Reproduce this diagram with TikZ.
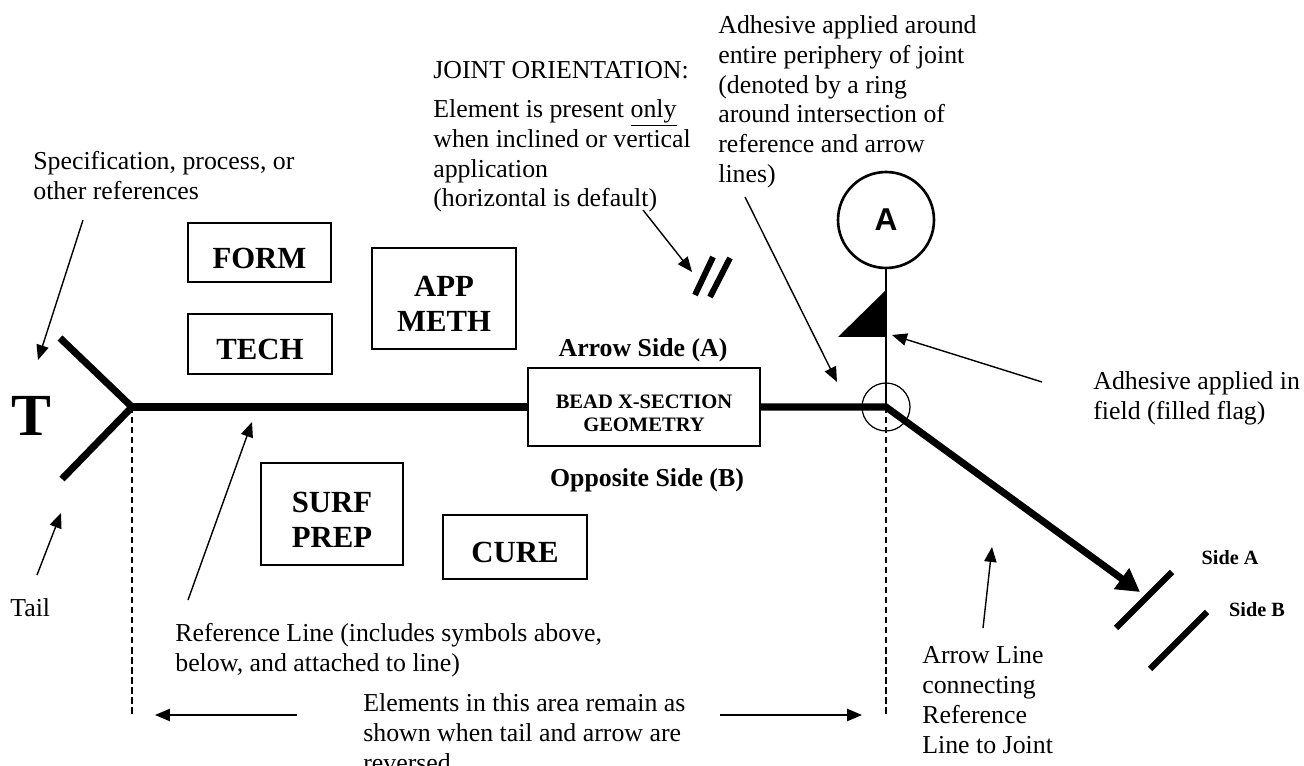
\documentclass[tikz,border=0pt]{standalone}
\usepackage{fontspec}
\setmainfont{Liberation Serif}
\newfontfamily\arialfont{Liberation Sans}
\usetikzlibrary{arrows.meta}

\newcommand{\capgap}{\rule{0pt}{18pt}}

\tikzset{
  refline/.style={line width=4pt},
  elbox/.style={draw, line width=0.9pt, inner sep=0pt, align=center,
    font=\fontsize{17.5}{20}\selectfont\bfseries},
  note/.style={anchor=north west, inner sep=0pt, align=left,
    font=\fontsize{14.7}{17}\selectfont},
  pointer/.style={line width=0.8pt, -{Triangle[length=8.5pt,width=7pt]}},
  guide/.style={line width=0.8pt, dash pattern=on 3.5pt off 2.2pt},
  jointbar/.style={line width=3.6pt},
}

\begin{document}
\begin{tikzpicture}[x=0.02cm, y=-0.02cm]
  \useasboundingbox (0,0) rectangle (1304,766);

  \def\ry{407};

  % tail and reference line
  \node[font=\fontsize{34}{34}\selectfont\bfseries, inner sep=0pt] (tee) at (31,416) {T};
  \coordinate (tv) at (132,\ry);
  \coordinate (tup) at (60,338);
  \coordinate (tlo) at (62,479);
  \draw[refline, line join=miter] (tup) -- (tv) -- (tlo);

  \node[elbox, minimum width=4.64cm, minimum height=1.56cm,
        font=\fontsize{11.7}{13}\selectfont\bfseries] (bead) at (644,\ry) {\rule{0pt}{14.7pt}BEAD X-SECTION\\GEOMETRY};
  \node[circle, draw, line width=0.7pt, minimum size=0.96cm, inner sep=0pt] (ring) at (886,\ry) {};
  \coordinate (jtip) at (1140,592);
  \draw[refline] (tv) -- (bead.west);
  \draw[refline, line join=miter, -{Triangle[length=13pt,width=14pt]}] (bead.east) -- (ring.center) -- (jtip);

  % element boxes
  \foreach \name/\txt/\x/\y/\w/\h in {form/FORM/259.5/252.5/2.86/1.18, tech/TECH/260/344/2.88/1.2,
      app/{APP\\METH}/444/298.5/2.88/2.02, surf/{SURF\\PREP}/332/514/2.84/2.04, cure/CURE/515/547/2.88/1.28}
    \node[elbox, minimum width=\w cm, minimum height=\h cm] (\name) at (\x,\y) {\capgap\txt};

  \node[font=\fontsize{14.7}{17}\selectfont\bfseries] (aside) at (643,350) {Arrow Side (A)};
  \node[font=\fontsize{14.7}{17}\selectfont\bfseries] (oside) at (647,480) {Opposite Side (B)};

  % area guides
  \coordinate (gl) at (132,714);
  \coordinate (gr) at (886,714);
  \draw[guide] (tv) -- (gl);
  \draw[guide] (ring.center) -- (gr);

  % joint
  \coordinate (sa1) at (1116,628); \coordinate (sa2) at (1172,572);
  \coordinate (sb1) at (1150,669); \coordinate (sb2) at (1207,612);
  \draw[jointbar] (sa1) -- (sa2);
  \draw[jointbar] (sb1) -- (sb2);
  \node[font=\fontsize{11.5}{13}\selectfont\bfseries] (sidea) at (1230,558) {Side A};
  \node[font=\fontsize{11.5}{13}\selectfont\bfseries] (sideb) at (1257,610) {Side B};

  % adhesive symbol and field flag
  \node[circle, draw, line width=1.5pt, minimum size=1.92cm, inner sep=0pt,
        font=\arialfont\fontsize{18}{18}\selectfont\bfseries] (adh) at (886,220) {A};
  \draw[line width=0.8pt] (adh.south) -- (ring.center);
  \fill (886,290) -- (886,337) -- (838,337) -- cycle;

  % orientation mark
  \coordinate (or1) at (695,295); \coordinate (or2) at (713,257);
  \coordinate (or3) at (710,297); \coordinate (or4) at (730,258);
  \draw[line width=3.4pt] (or1) -- (or2);
  \draw[line width=3.4pt] (or3) -- (or4);

  % notes
  \node[note] (spec) at (33,151) {Specification, process, or\\other references};
  \node[note] (joint) at (433,61) {JOINT ORIENTATION:};
  \node[note] (elem) at (433,99) {Element is present \underline{only}\\when inclined or vertical\\application\\(horizontal is default)};
  \node[note] (around) at (718,15) {Adhesive applied around\\entire periphery of joint\\(denoted by a ring\\around intersection of\\reference and arrow\\lines)};
  \node[note] (infield) at (1093,371) {Adhesive applied in\\field (filled flag)};
  \node[note] (tailtx) at (10,598) {Tail};
  \node[note] (refnote) at (175,623) {Reference Line (includes symbols above,\\below, and attached to line)};
  \node[note] (area) at (363,693) {Elements in this area remain as\\shown when tail and arrow are\\reversed};
  \node[note] (arrowln) at (922,646) {Arrow Line\\connecting\\Reference\\Line to Joint};

  % pointers
  \foreach \name/\x/\y in {p1/83/220, q1/38/360, p2/37/575, q2/61/513, p3/188/600, q3/252/422,
      p4/643/210, q4/692/272, p5/745/197, q5/837/382, p6/1042/382, q6/892/335,
      p7/983/628, q7/992/547, p8/297/715, q8/155/715, p9/720/715, q9/862/715}
    \coordinate (\name) at (\x,\y);
  \foreach \i in {1,...,9}
    \draw[pointer] (p\i) -- (q\i);
\end{tikzpicture}
\end{document}
